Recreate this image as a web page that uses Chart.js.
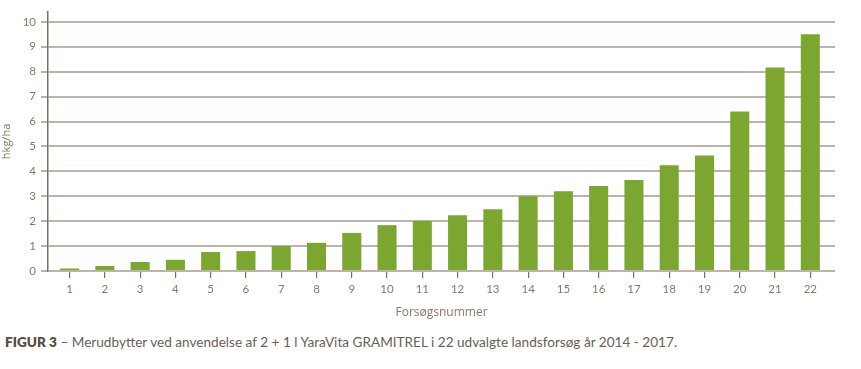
<!DOCTYPE html>
<html>
<head>
<meta charset="utf-8">
<script src="https://cdn.jsdelivr.net/npm/chart.js@4"></script>
<style>
  html, body { margin: 0; padding: 0; background: #fff; }
  #wrap { position: relative; width: 861px; height: 369px; }
  #c { position: absolute; left: 0; top: 0; }
  #caption { position: absolute; left: 5px; top: 334px; font-family: Lato, "Noto Sans", sans-serif; font-size: 13.6px; color: #6b5e54; white-space: nowrap; }
  #caption b { color: #594c43; font-weight: 800; }
</style>
</head>
<body>
<div id="wrap">
  <canvas id="c" width="861" height="330"></canvas>
  <div id="caption"><b>FIGUR 3</b> – Merudbytter ved anvendelse af 2 + 1 l YaraVita GRAMITREL i 22 udvalgte landsforsøg år 2014 - 2017.</div>
</div>
<script>
const categories = [1,2,3,4,5,6,7,8,9,10,11,12,13,14,15,16,17,18,19,20,21,22];
const values = [0.1,0.2,0.36,0.45,0.76,0.8,1.0,1.13,1.53,1.84,2.01,2.24,2.48,3.0,3.2,3.41,3.65,4.24,4.64,6.4,8.17,9.5];
const yTicks = [0,1,2,3,4,5,6,7,8,9,10];
const xTitle = 'Forsøgsnummer';
const yTitle = 'hkg/ha';

const tickColor = '#8a7866';
const gridColor = '#bdb3a8';
const axisColor = '#7d6f62';
const barColor = '#7ba62f';
const fontFamily = 'Lato, "Noto Sans", sans-serif';
const titleFamily = '"Open Sans", Lato, sans-serif';

new Chart(document.getElementById('c'), {
  type: 'bar',
  data: {
    datasets: [{
      data: values.map((v, i) => ({ x: categories[i], y: v })),
      backgroundColor: barColor,
      borderWidth: 0,
      barPercentage: 0.54,
      categoryPercentage: 1
    }]
  },
  options: {
    responsive: false,
    animation: false,
    events: [],
    layout: { padding: { left: 0, right: 26, top: 11, bottom: 10 } },
    plugins: { legend: { display: false }, tooltip: { enabled: false } },
    scales: {
      x: {
        type: 'linear',
        min: 0.388,
        max: 22.7,
        offset: false,
        afterFit: s => { s.height = 49; },
        afterBuildTicks: s => { s.ticks = categories.map(v => ({ value: v })); },
        ticks: { color: tickColor, font: { family: fontFamily, size: 11.5 }, padding: 4, maxRotation: 0, autoSkip: false, includeBounds: false },
        grid: { drawOnChartArea: false, drawTicks: true, tickLength: 7, color: axisColor, lineWidth: 1.2, offset: false },
        border: { display: false },
        title: { display: true, text: xTitle, color: tickColor, font: { family: titleFamily, size: 12 }, padding: { top: 8, bottom: 0 } }
      },
      y: {
        min: 0,
        max: 10.4,
        afterFit: s => { s.width = 48; },
        afterBuildTicks: s => { s.ticks = yTicks.map(v => ({ value: v })); },
        ticks: { color: tickColor, font: { family: fontFamily, size: 11.5 }, padding: 5, includeBounds: false },
        grid: { color: gridColor, lineWidth: 2, tickLength: 7 },
        border: { display: true, color: axisColor, width: 1.5 },
        title: { display: true, text: yTitle, color: tickColor, font: { family: titleFamily, size: 11 }, padding: { top: 0, bottom: 0 } }
      }
    }
  }
});
</script>
</body>
</html>
